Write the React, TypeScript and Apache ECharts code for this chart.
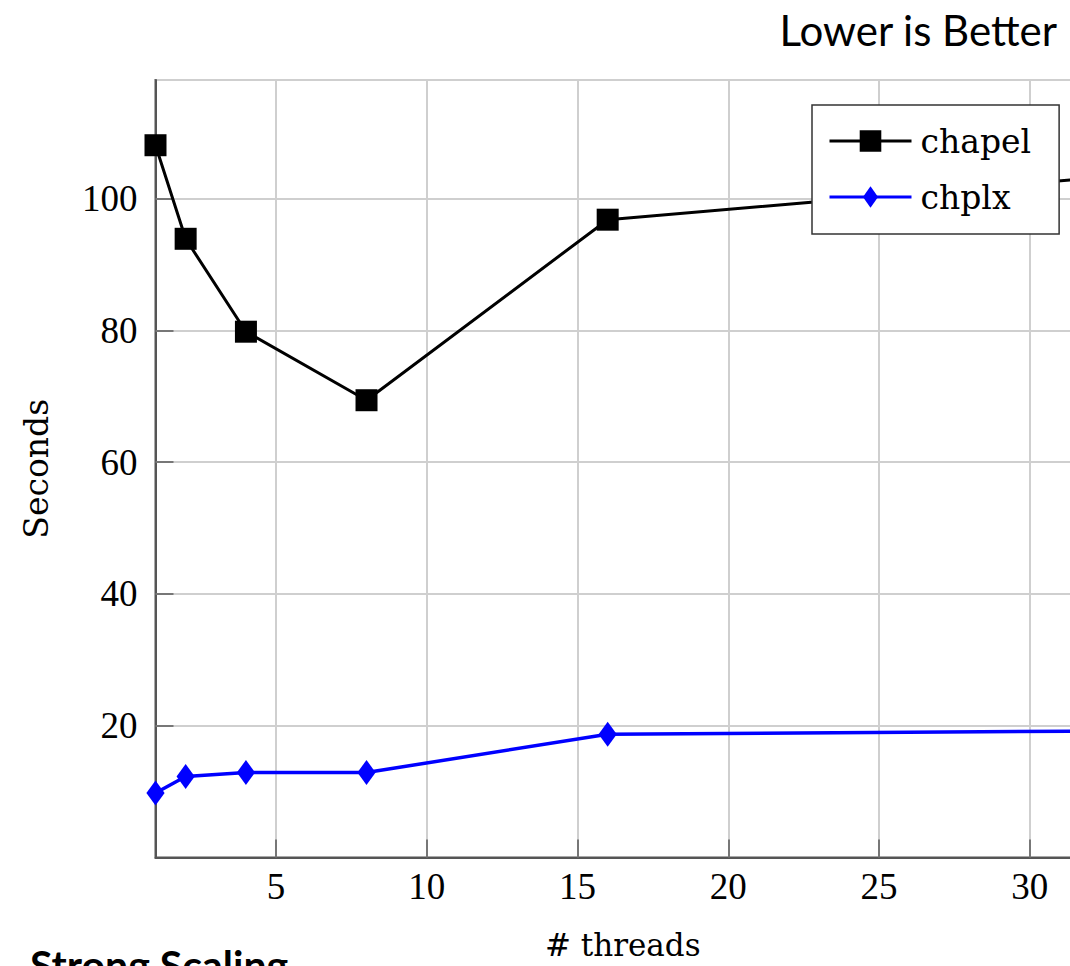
import React, { useEffect, useRef } from "react";
import * as echarts from "echarts";

const threads = [1, 2, 4, 8, 16, 32];
const chapelSeconds = [108.1, 93.9, 79.8, 69.4, 96.8, 103.1];
const chplxSeconds = [9.8, 12.3, 12.9, 12.9, 18.7, 19.2];
const xTickValues = [5, 10, 15, 20, 25, 30];
const seriesNames = ["chapel", "chplx"];

const SERIF_DIGITS = "'Liberation Serif', serif";
const SERIF_WORDS = "'DejaVu Serif', serif";

export default function App() {
  const ref = useRef<HTMLDivElement>(null);
  useEffect(() => {
    if (!ref.current) return;
    const chart = echarts.init(ref.current, null, { renderer: "svg" });
    const diamondPath = "path://M0 0M10 10M5 0L8.5 5L5 10L1.5 5Z";
    chart.setOption({
      animation: false,
      backgroundColor: "#ffffff",
      grid: {
        left: 155.5,
        top: 80,
        right: 20,
        bottom: 108.5,
        show: true,
        borderColor: "#555",
        borderWidth: 2,
        containLabel: false,
        outerBoundsMode: "none",
      },
      legend: {
        data: seriesNames,
        orient: "vertical",
        left: 812,
        top: 105,
        itemWidth: 82,
        itemHeight: 27,
        itemGap: 16,
        padding: [16, 28, 17, 16],
        backgroundColor: "#ffffff",
        borderColor: "#333",
        borderWidth: 1.5,
        borderRadius: 0,
        lineStyle: { width: 3 },
        textStyle: {
          fontFamily: SERIF_WORDS,
          fontSize: 33,
          color: "#000",
          lineHeight: 40,
          padding: [0, 0, 0, 4],
        },
      },
      xAxis: {
        type: "value",
        min: 1,
        max: 32,
        name: "# threads",
        nameLocation: "middle",
        nameGap: 72,
        nameTextStyle: { fontFamily: SERIF_WORDS, fontSize: 31, color: "#000" },
        axisLine: { lineStyle: { color: "#555", width: 2 } },
        axisTick: {
          inside: true,
          length: 18,
          customValues: xTickValues,
          lineStyle: { color: "#777", width: 2 },
        },
        axisLabel: {
          customValues: xTickValues,
          margin: 10,
          fontFamily: SERIF_DIGITS,
          fontSize: 37,
          color: "#000",
        },
        splitLine: { show: true, lineStyle: { color: "#cfcfcf", width: 2 } },
      },
      yAxis: {
        type: "value",
        min: 0,
        max: 118,
        interval: 20,
        name: "Seconds",
        nameLocation: "middle",
        nameGap: 103,
        nameTextStyle: { fontFamily: SERIF_WORDS, fontSize: 33, color: "#000" },
        axisLine: { show: true, lineStyle: { color: "#555", width: 2 } },
        axisTick: {
          show: true,
          inside: true,
          length: 18,
          lineStyle: { color: "#777", width: 2 },
        },
        axisLabel: {
          showMinLabel: false,
          showMaxLabel: false,
          margin: 18,
          fontFamily: SERIF_DIGITS,
          fontSize: 37,
          color: "#000",
        },
        splitLine: { show: true, lineStyle: { color: "#cfcfcf", width: 2 } },
      },
      series: [
        {
          name: seriesNames[0],
          type: "line",
          data: threads.map((t, i) => [t, chapelSeconds[i]]),
          symbol: "rect",
          symbolSize: 22,
          clip: true,
          lineStyle: { color: "#000", width: 3 },
          itemStyle: { color: "#000" },
          z: 3,
        },
        {
          name: seriesNames[1],
          type: "line",
          data: threads.map((t, i) => [t, chplxSeconds[i]]),
          symbol: diamondPath,
          symbolSize: [26, 25],
          clip: true,
          lineStyle: { color: "#0000ff", width: 3.5 },
          itemStyle: { color: "#0000ff" },
          z: 3,
        },
      ],
      graphic: [
        {
          type: "text",
          x: 1057,
          y: 30,
          style: {
            text: "Lower is Better",
            fontFamily: "Lato, sans-serif",
            fontSize: 42,
            fill: "#000",
            align: "right",
            verticalAlign: "middle",
          },
        },
        {
          type: "text",
          x: 30,
          y: 944,
          style: {
            text: "Strong Scaling",
            fontFamily: "Lato, sans-serif",
            fontSize: 41,
            fontWeight: "bold",
            fill: "#000",
            align: "left",
            verticalAlign: "top",
          },
        },
      ],
    });
    return () => chart.dispose();
  }, []);
  return (
    <div
      style={{
        position: "absolute",
        left: 0,
        top: 0,
        width: 1070,
        height: 966,
        overflow: "hidden",
      }}
    >
      <div ref={ref} style={{ width: 1110, height: 966 }} />
    </div>
  );
}
